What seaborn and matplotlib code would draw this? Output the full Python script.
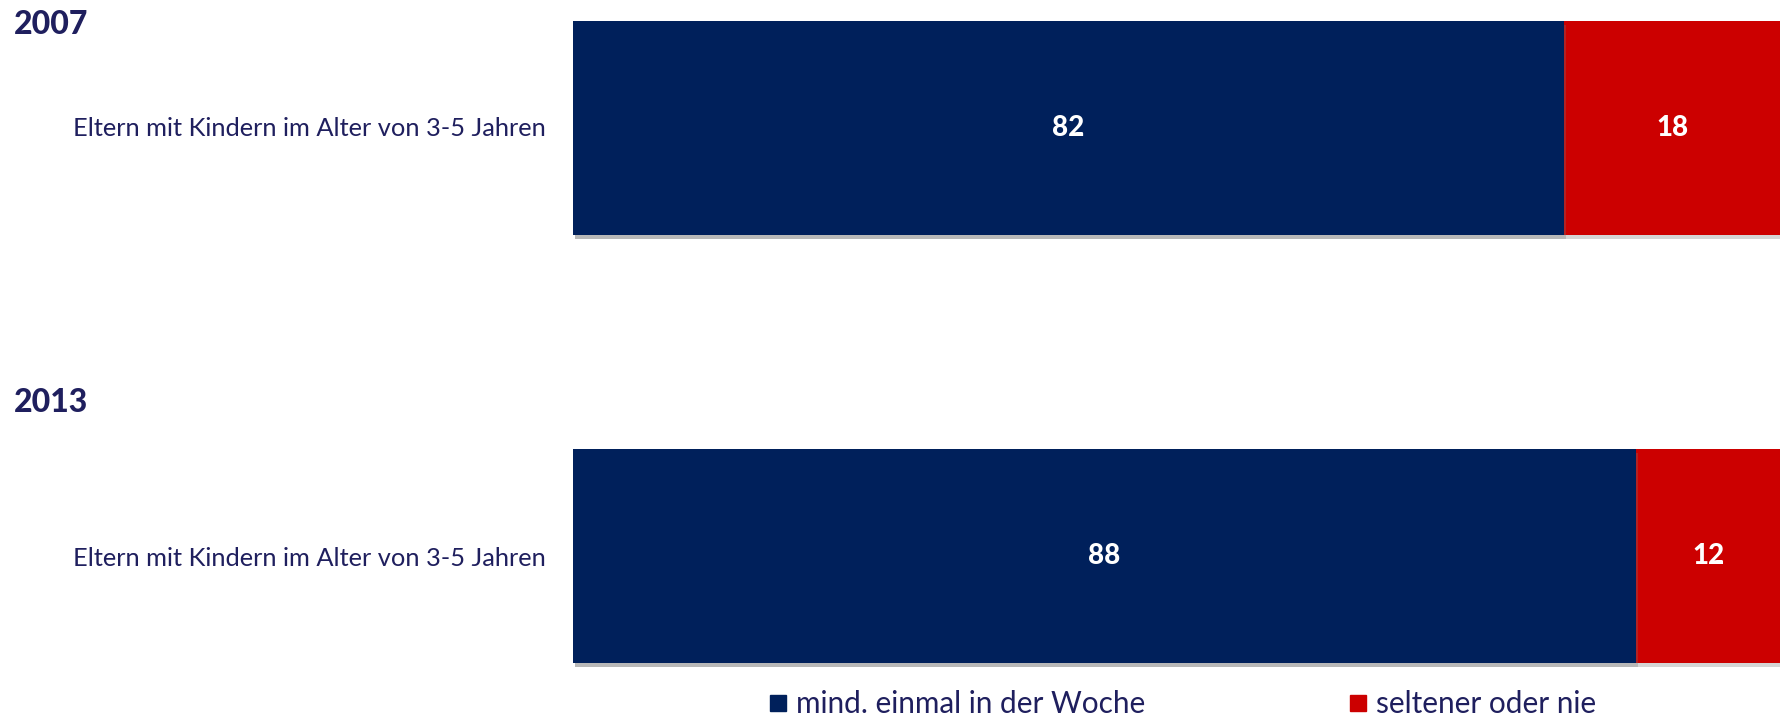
import matplotlib
matplotlib.use("Agg")
import matplotlib.pyplot as plt
import matplotlib.patheffects as pe
from matplotlib.lines import Line2D
import seaborn as sns
import pandas as pd

years = ["2007", "2013"]
group_label = "Eltern mit Kindern im Alter von 3-5 Jahren"
series_names = ["mind. einmal in der Woche", "seltener oder nie"]
mind_values = [82, 88]
selten_values = [18, 12]

NAVY = "#00205B"
RED = "#CC0000"
TEXT = "#1F1F5E"

sns.set_theme(style="white")
plt.rcParams["font.family"] = ["Lato", "DejaVu Sans"]

W, H = 1781, 717
fig = plt.figure(figsize=(W / 100, H / 100), dpi=100)
ax_left = 573 / W
ax = fig.add_axes([ax_left, 0, 1 - ax_left, 1])

df = pd.DataFrame({
    "year": years,
    "mind": mind_values,
    "selten": selten_values,
})
df["total"] = df["mind"] + df["selten"]

sns.barplot(data=df, x="total", y="year", color=RED, width=0.5,
            orient="h", ax=ax, saturation=1, linewidth=0)
sns.barplot(data=df, x="mind", y="year", color=NAVY, width=0.5,
            orient="h", ax=ax, saturation=1, linewidth=0)

for p in ax.patches:
    p.set_path_effects([pe.SimplePatchShadow(offset=(1.5, -3), shadow_rgbFace="#777777", alpha=0.3),
                        pe.Normal()])

# value labels
for i, (m, s) in enumerate(zip(mind_values, selten_values)):
    ax.text(m / 2, i, str(m), ha="center", va="center", color="white",
            fontsize=20, fontweight="black")
    ax.text(m + s / 2, i, str(s), ha="center", va="center", color="white",
            fontsize=20, fontweight="black")

ax.set_xlim(0, 100)
y_top = -128 / 428
y_bot = 1 + (717 - 556) / 428
ax.set_ylim(y_bot, y_top)
ax.axis("off")

# year headings and row labels
heading_y = [25, 403]
label_y = [128, 558]
for yr, hy, ly in zip(years, heading_y, label_y):
    fig.text(14 / W, 1 - hy / H, yr, ha="left", va="center", color=TEXT,
             fontsize=23, fontweight="black")
    fig.text(546 / W, 1 - ly / H, group_label, ha="right", va="center",
             color=TEXT, fontsize=18.3)

handles = [Line2D([0], [0], marker="s", linestyle="none", markersize=12,
                  markerfacecolor=NAVY, markeredgecolor=NAVY),
           Line2D([0], [0], marker="s", linestyle="none", markersize=12,
                  markerfacecolor=RED, markeredgecolor=RED)]
fig.legend(handles, series_names, loc="center left",
           bbox_to_anchor=(768 / W, 1 - 704 / H), ncol=2, frameon=False,
           fontsize=21.4, handlelength=0.7, handletextpad=0.25,
           columnspacing=6.8, labelcolor=TEXT, borderpad=0, borderaxespad=0)

fig.savefig("out.png", dpi=100)
